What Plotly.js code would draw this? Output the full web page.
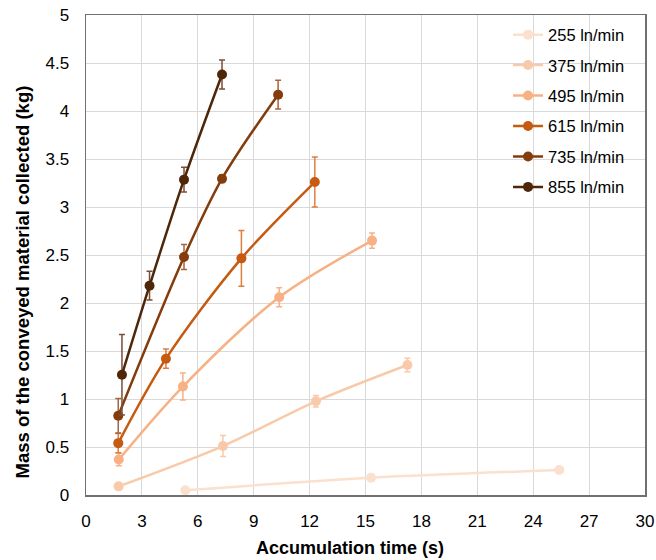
<!DOCTYPE html>
<html>
<head>
<meta charset="utf-8">
<script src="https://cdn.plot.ly/plotly-3.0.1.min.js"></script>
<style>html,body{margin:0;padding:0;background:#fff;}#chart{width:656px;height:560px;}</style>
</head>
<body>
<div id="chart"></div>
<script>
const seriesNames = ["255 ln/min", "375 ln/min", "495 ln/min", "615 ln/min", "735 ln/min", "855 ln/min"];

const t255 = [5.33, 15.3, 25.4];
const m255 = [0.05, 0.18, 0.26];
const e255 = [0.01, 0.02, 0.02];

const t375 = [1.75, 7.35, 12.34, 17.25];
const m375 = [0.09, 0.51, 0.976, 1.354];
const e375 = [0.02, 0.11, 0.06, 0.07];

const t495 = [1.76, 5.2, 10.37, 15.35];
const m495 = [0.37, 1.13, 2.06, 2.65];
const e495 = [0.065, 0.14, 0.1, 0.08];

const t615 = [1.73, 4.29, 8.34, 12.28];
const m615 = [0.54, 1.42, 2.465, 3.26];
const e615 = [0.1, 0.1, 0.29, 0.26];

const t735 = [1.73, 5.26, 7.3, 10.31];
const m735 = [0.826, 2.48, 3.295, 4.17];
const e735 = [0.18, 0.13, 0.04, 0.15];

const t855 = [1.93, 3.41, 5.26, 7.3];
const m855 = [1.253, 2.18, 3.285, 4.38];
const e855 = [0.42, 0.15, 0.13, 0.15];

const xTickVals = [0, 3, 6, 9, 12, 15, 18, 21, 24, 27, 30];
const yTickVals = [0, 0.5, 1, 1.5, 2, 2.5, 3, 3.5, 4, 4.5, 5];

const xTitle = "Accumulation time (s)";
const yTitle = "Mass of the conveyed material collected (kg)";

const colors = ["#FBE0CE", "#F9CAAA", "#F7B184", "#C55A11", "#843C0C", "#4E2608"];
const errColors = ["#FBE0CE", "#F9CAAA", "#F7B184", "#E07E3E", "#A8643E", "#7A4E36"];

const xs = [t255, t375, t495, t615, t735, t855];
const ys = [m255, m375, m495, m615, m735, m855];
const es = [e255, e375, e495, e615, e735, e855];

const traces = seriesNames.map((name, i) => ({
  type: "scatter",
  mode: "lines+markers",
  name: name,
  legendgroup: "g" + i,
  x: xs[i],
  y: ys[i],
  line: {color: colors[i], width: 2.5, shape: "spline", smoothing: 0.9},
  marker: {color: colors[i], size: 10, symbol: "circle"},
  error_y: {type: "data", array: es[i], visible: true, color: errColors[i], thickness: 1.5, width: 3}
}));

const layout = {
  width: 656,
  height: 560,
  margin: {l: 86, r: 11, t: 15, b: 65},
  paper_bgcolor: "#ffffff",
  plot_bgcolor: "#ffffff",
  font: {family: "Liberation Sans, Arial, sans-serif", size: 16, color: "#000000"},
  showlegend: true,
  legend: {
    x: 0.755, xanchor: "left", y: 0.995, yanchor: "top",
    bgcolor: "rgba(0,0,0,0)",
    font: {size: 16.5, color: "#000"},
    traceorder: "grouped",
    tracegroupgap: 6
  },
  xaxis: {
    range: [0, 30],
    tickvals: xTickVals,
    ticktext: xTickVals.map(String),
    showgrid: true, gridcolor: "#D9D9D9", gridwidth: 1,
    zeroline: false,
    showline: true, linecolor: "#707070", linewidth: 1.5, mirror: true,
    ticks: "", ticklen: 0,
    ticklabelstandoff: 10,
    tickfont: {size: 17}
  },
  yaxis: {
    range: [0, 5],
    tickvals: yTickVals,
    ticktext: yTickVals.map(String),
    showgrid: true, gridcolor: "#D9D9D9", gridwidth: 1,
    zeroline: false,
    showline: true, linecolor: "#707070", linewidth: 1.5, mirror: true,
    ticks: "", ticklen: 0,
    ticklabelstandoff: 12,
    tickfont: {size: 17}
  },
  annotations: [
    {text: "<b>" + xTitle + "</b>", xref: "paper", yref: "paper", x: 0.472, y: -0.11,
     xanchor: "center", yanchor: "middle", showarrow: false, font: {size: 18}},
    {text: "<b>" + yTitle + "</b>", xref: "paper", yref: "paper", x: -0.1145, y: 0.445,
     xanchor: "center", yanchor: "middle", textangle: -90, showarrow: false, font: {size: 18.5}}
  ]
};

Plotly.newPlot("chart", traces, layout, {displayModeBar: false, staticPlot: true});
</script>
</body>
</html>
